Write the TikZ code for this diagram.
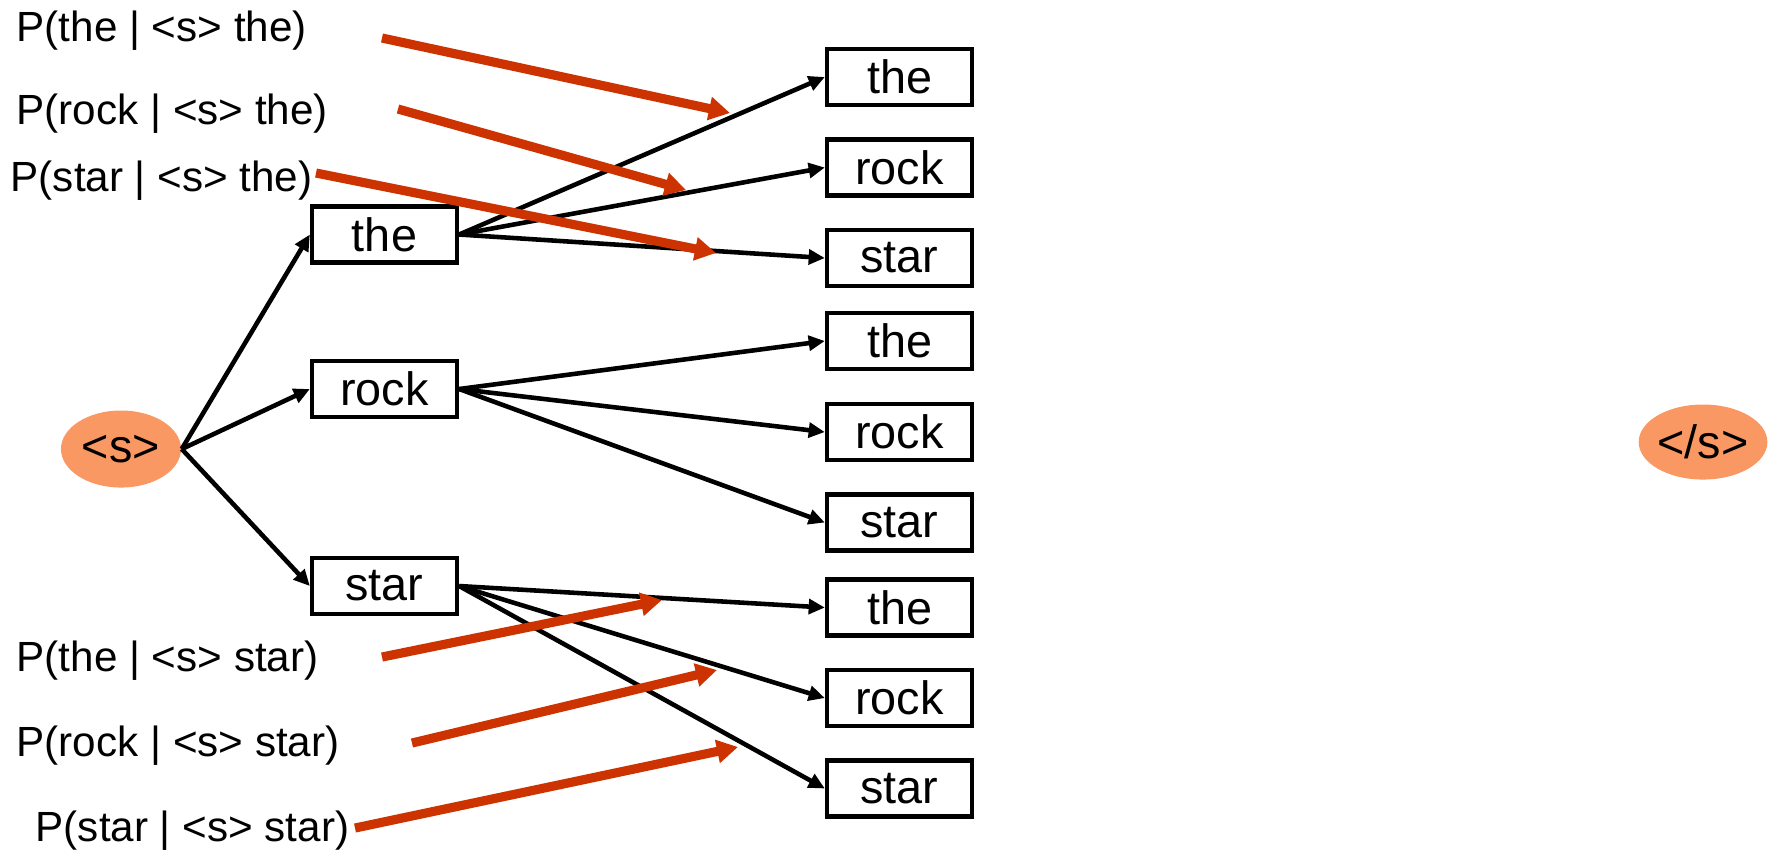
\documentclass[tikz,border=0pt]{standalone}
\usepackage{fontspec}
\setmainfont{Liberation Sans}
\usetikzlibrary{arrows.meta,shapes.geometric}
\definecolor{tagfill}{RGB}{250,152,100}
\definecolor{probred}{RGB}{204,51,0}
\tikzset{
    word/.style={draw, line width=1.2pt, minimum width=1.45cm, minimum height=0.56cm,
        inner sep=0pt, font=\fontsize{13.3}{16}\selectfont},
    tag/.style={ellipse, fill=tagfill, inner sep=0pt, font=\fontsize{13.3}{16}\selectfont},
    prob/.style={anchor=west, inner sep=0pt, font=\fontsize{12}{14}\selectfont},
    edge/.style={line width=1.3pt, -{Triangle[length=4.6pt,width=4.2pt]}},
    probarrow/.style={draw=probred, line width=2.6pt, -{Triangle[length=6pt,width=6.4pt]}}
}
\begin{document}
\begin{tikzpicture}[x=0.01cm, y=-0.01cm]
    \useasboundingbox (0,0) rectangle (1774,850);

    % start and end of sentence
    \node[tag, minimum width=1.2cm, minimum height=0.77cm] (bos) at (121,449) {<s>};
    \node[tag, minimum width=1.27cm, minimum height=0.75cm] (eos) at (1703,442) {</s>};

    % first word
    \node[word] (the) at (384.5,234.5) {the};
    \node[word] (rock) at (384.5,389) {rock};
    \node[word] (star) at (384.5,586) {star};

    % second word
    \node[word] (thethe) at (899.5,77) {the};
    \node[word] (therock) at (899.5,167.5) {rock};
    \node[word] (thestar) at (899.5,258) {star};
    \node[word] (rockthe) at (899.5,341) {the};
    \node[word] (rockrock) at (899.5,432) {rock};
    \node[word] (rockstar) at (899.5,522.5) {star};
    \node[word] (starthe) at (899.5,607.5) {the};
    \node[word] (starrock) at (899.5,698) {rock};
    \node[word] (starstar) at (899.5,788.5) {star};

    \draw[edge] (bos.east) -- (the.west);
    \draw[edge] (bos.east) -- (rock.west);
    \draw[edge] (bos.east) -- (star.west);

    \draw[edge] (the.east) -- (thethe.west);
    \draw[edge] (the.east) -- (therock.west);
    \draw[edge] (the.east) -- (thestar.west);
    \draw[edge] (rock.east) -- (rockthe.west);
    \draw[edge] (rock.east) -- (rockrock.west);
    \draw[edge] (rock.east) -- (rockstar.west);
    \draw[edge] (star.east) -- (starthe.west);
    \draw[edge] (star.east) -- (starrock.west);
    \draw[edge] (star.east) -- (starstar.west);

    % probabilities
    \node[prob] (pthethe) at (16,31) {P(the | <s> the)};
    \node[prob] (prockthe) at (16,114) {P(rock | <s> the)};
    \node[prob] (pstarthe) at (10,181) {P(star | <s> the)};
    \node[prob] (pthestar) at (16,661) {P(the | <s> star)};
    \node[prob] (prockstar) at (16,746) {P(rock | <s> star)};
    \node[prob] (pstarstar) at (35,831) {P(star | <s> star)};

    \coordinate (a1) at (382,38);  \coordinate (b1) at (730,113);
    \coordinate (a2) at (398,109); \coordinate (b2) at (686,190);
    \coordinate (a3) at (316,173); \coordinate (b3) at (716,253);
    \coordinate (a4) at (382,657); \coordinate (b4) at (662,600);
    \coordinate (a5) at (412,743); \coordinate (b5) at (717,670);
    \coordinate (a6) at (355,828); \coordinate (b6) at (738,747);

    \draw[probarrow] (a1) -- (b1);
    \draw[probarrow] (a2) -- (b2);
    \draw[probarrow] (a3) -- (b3);
    \draw[probarrow] (a4) -- (b4);
    \draw[probarrow] (a5) -- (b5);
    \draw[probarrow] (a6) -- (b6);
\end{tikzpicture}
\end{document}
